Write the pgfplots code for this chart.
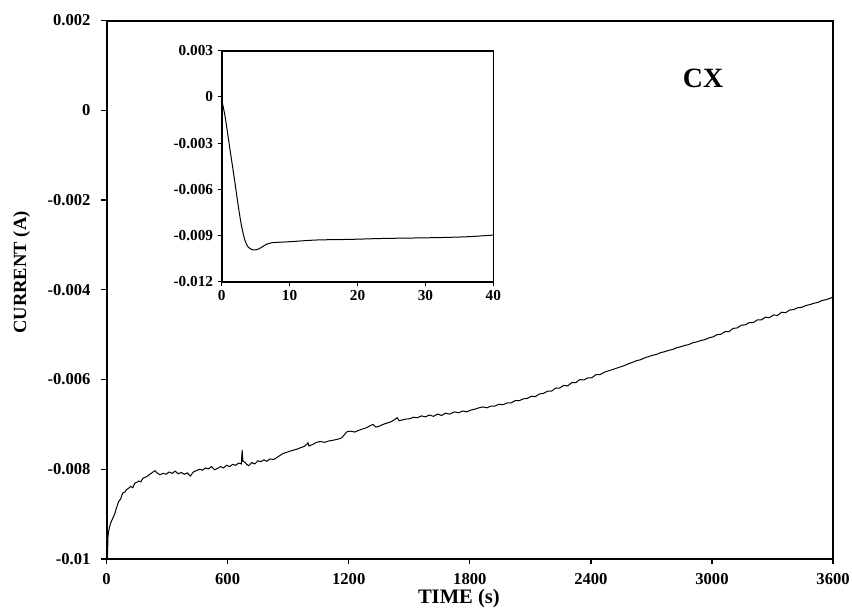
\documentclass[border=0pt]{standalone}
\usepackage{fontspec}
\setmainfont{Liberation Serif}
\usepackage{pgfplots}
\pgfplotsset{compat=1.18}
\begin{document}
\begin{tikzpicture}
\begin{axis}[
  at={(0,0)}, anchor=south west,
  scale only axis, width=544.9bp, height=403.9bp,
  xmin=0, xmax=3600, ymin=-0.01, ymax=0.002,
  xtick={0,600,1200,1800,2400,3000,3600},
  xticklabels={0,600,1200,1800,2400,3000,3600},
  ytick={-0.01,-0.008,-0.006,-0.004,-0.002,0,0.002},
  yticklabels={-0.01,-0.008,-0.006,-0.004,-0.002,0,0.002},
  scaled x ticks=false, scaled y ticks=false,
  tick align=outside, xtick pos=bottom, ytick pos=left,
  major tick length=4bp,
  tick style={line width=1bp, black},
  axis line style={line width=1.5bp},
  ticklabel style={font=\fontsize{12.5}{14}\selectfont\bfseries},
  xticklabel style={yshift=-3.5bp},
  yticklabel style={xshift=-4.5bp},
  xlabel={TIME (s)}, ylabel={CURRENT (A)},
  xlabel style={at={(axis description cs:0.485,-0.0724)}, anchor=center, font=\fontsize{15.5}{17}\selectfont\bfseries},
  ylabel style={at={(axis description cs:-0.1167,0.532)}, anchor=center, font=\fontsize{14}{16}\selectfont\bfseries},
  clip=true,
]
\addplot[black, line width=0.75bp] coordinates {
(0,0) (0.5,-0.0013) (1.2,-0.0035) (2,-0.0056) (2.5,-0.0071) (3,-0.0084) (3.5,-0.0093) (4,-0.0098) (4.7,-0.0099) (5.4,-0.0099) (6.4,-0.0096) (7.4,-0.0095) (10,-0.0094) (14,-0.0093) (20,-0.0092) (30,-0.0091) (40,-0.0090)
(50,-0.00885) (60,-0.00872) (70,-0.00866) (80,-0.00853) (90,-0.00851) (100,-0.00845) (110,-0.00842) (120,-0.00838) (130,-0.00841) (140,-0.00831) (150,-0.00829) (160,-0.00826) (170,-0.00828) (180,-0.00820) (190,-0.00818) (200,-0.00816) (215,-0.00811) (230,-0.00806) (240,-0.00803) (250,-0.00808) (265,-0.00812) (280,-0.00809) (295,-0.00811) (310,-0.00806) (325,-0.00809) (340,-0.00804) (355,-0.00810) (370,-0.00807) (385,-0.00811) (400,-0.00808) (415,-0.00815) (430,-0.00806) (445,-0.00803) (460,-0.00800) (475,-0.00802) (490,-0.00797) (505,-0.00799) (520,-0.00794) (535,-0.00801) (550,-0.00798) (565,-0.00794) (580,-0.00797) (595,-0.00791) (610,-0.00794) (625,-0.00789) (640,-0.00791) (655,-0.00786) (668,-0.00788) (672,-0.00757) (676,-0.00782) (685,-0.00784) (695,-0.00789) (705,-0.00792) (720,-0.00785) (735,-0.00788) (750,-0.00781) (765,-0.00783) (780,-0.00779) (795,-0.00782) (810,-0.00777) (830,-0.00778) (850,-0.00772) (870,-0.00766) (885,-0.00763) (900,-0.00761) (920,-0.00758) (945,-0.00755) (960,-0.00752) (980,-0.00749) (995,-0.00743) (998,-0.00741) (1003,-0.00748) (1020,-0.00745) (1040,-0.00740) (1060,-0.00738) (1080,-0.00740) (1100,-0.00737) (1125,-0.00735) (1145,-0.00733) (1165,-0.00730) (1180,-0.00722) (1192,-0.00716) (1210,-0.00715) (1230,-0.00717) (1250,-0.00713) (1270,-0.00710) (1290,-0.00707) (1305,-0.00703) (1320,-0.00700) (1335,-0.00706) (1350,-0.00704) (1370,-0.00700) (1390,-0.00697) (1410,-0.00694) (1425,-0.00690) (1440,-0.00685) (1450,-0.00692) (1465,-0.00690) (1485,-0.00688) (1505,-0.00687) (1520,-0.00684) (1540,-0.00685) (1560,-0.00681) (1580,-0.00683) (1600,-0.00679) (1620,-0.00682) (1640,-0.00677) (1660,-0.00680) (1680,-0.00675) (1700,-0.00677) (1725,-0.00672) (1745,-0.00674) (1765,-0.00670) (1785,-0.00672) (1805,-0.00668) (1825,-0.00666) (1845,-0.00663) (1865,-0.00661) (1885,-0.00663) (1905,-0.00659) (1925,-0.00659) (1945,-0.00655) (1965,-0.00656) (1985,-0.00652) (2005,-0.00652) (2025,-0.00647) (2045,-0.00647) (2065,-0.00643) (2085,-0.00642) (2105,-0.00637) (2125,-0.00638) (2145,-0.00632) (2165,-0.00631) (2185,-0.00626) (2205,-0.00626) (2225,-0.00619) (2245,-0.00619) (2265,-0.00613) (2285,-0.00614) (2305,-0.00607) (2325,-0.00607) (2345,-0.00600) (2365,-0.00601) (2385,-0.00596) (2405,-0.00596) (2425,-0.00589) (2445,-0.00589) (2465,-0.00584) (2485,-0.00581) (2505,-0.00578) (2525,-0.00575) (2545,-0.00572) (2565,-0.00569) (2585,-0.00565) (2605,-0.00562) (2625,-0.00558) (2645,-0.00556) (2665,-0.00552) (2685,-0.00549) (2705,-0.00546) (2725,-0.00544) (2745,-0.00540) (2765,-0.00538) (2785,-0.00535) (2805,-0.00533) (2825,-0.00529) (2845,-0.00527) (2865,-0.00524) (2885,-0.00522) (2905,-0.00518) (2925,-0.00516) (2945,-0.00513) (2965,-0.00511) (2985,-0.00507) (3005,-0.00505) (3025,-0.00500) (3045,-0.00499) (3065,-0.00493) (3085,-0.00493) (3105,-0.00486) (3125,-0.00485) (3145,-0.00479) (3165,-0.00478) (3185,-0.00473) (3205,-0.00473) (3225,-0.00467) (3245,-0.00467) (3265,-0.00461) (3285,-0.00462) (3305,-0.00456) (3325,-0.00457) (3345,-0.00450) (3365,-0.00451) (3385,-0.00445) (3405,-0.00444) (3425,-0.00440) (3445,-0.00439) (3465,-0.00435) (3485,-0.00433) (3505,-0.00430) (3525,-0.00428) (3545,-0.00424) (3565,-0.00422) (3585,-0.00419) (3600,-0.00416)
};
\node[font=\fontsize{21}{24}\selectfont\bfseries] at (axis cs:2956,0.00072) {CX};
\end{axis}
\begin{axis}[
  at={(86.4bp,208bp)}, anchor=south west,
  scale only axis, width=203.7bp, height=173.25bp,
  xmin=0, xmax=40, ymin=-0.012, ymax=0.003,
  xtick={0,10,20,30,40},
  ytick={-0.012,-0.009,-0.006,-0.003,0,0.003},
  yticklabels={-0.012,-0.009,-0.006,-0.003,0,0.003},
  scaled x ticks=false, scaled y ticks=false,
  tick align=outside, xtick pos=bottom, ytick pos=left,
  major tick length=3bp,
  tick style={line width=0.8bp, black},
  axis line style={line width=1.2bp},
  axis background/.style={fill=white},
  ticklabel style={font=\fontsize{11.5}{13}\selectfont\bfseries},
  /pgf/number format/assume math mode=true,
]
\addplot[black, line width=0.75bp, smooth] coordinates {
(0,-0.0002) (0.5,-0.00129) (1.23,-0.00345) (1.96,-0.00561) (2.45,-0.00713) (2.94,-0.00843) (3.44,-0.00934) (3.93,-0.00977) (4.66,-0.00994) (5.4,-0.00988) (6.38,-0.00962) (7.36,-0.00947) (10.06,-0.0094) (14,-0.00929) (18.9,-0.00925) (23.8,-0.00919) (31.2,-0.00914) (36.1,-0.00908) (40,-0.00897)
};
\end{axis}
\pgfresetboundingbox
\path[use as bounding box] (-79.9bp,-36.75bp) rectangle (559.1bp,419.3bp);
\end{tikzpicture}
\end{document}
